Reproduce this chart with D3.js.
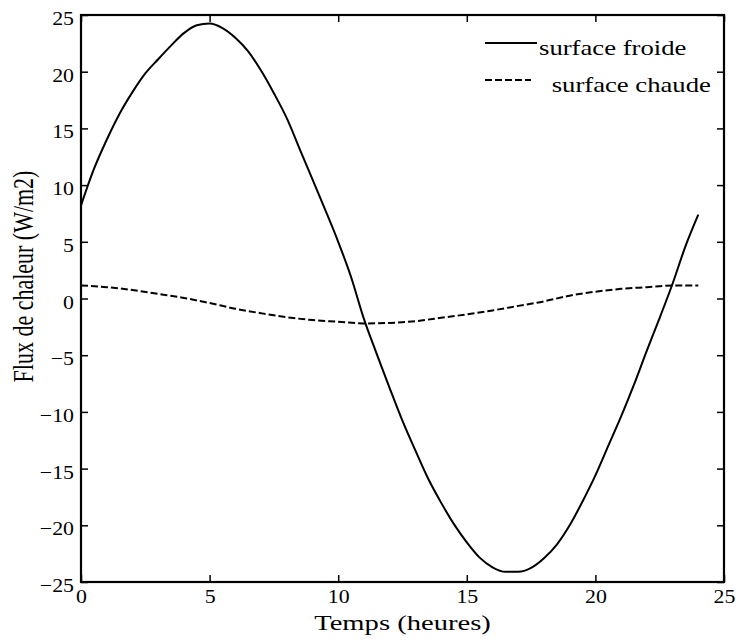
<!DOCTYPE html>
<html><head><meta charset="utf-8">
<script src="https://cdn.jsdelivr.net/npm/d3@7"></script>
<style>body{margin:0;background:#fff}svg{display:block}</style>
</head><body>
<svg id="c" width="736" height="644"></svg>
<script>
// ---- data ----
const hoursFroide = [0,0.5,1,1.5,2,2.5,3,3.5,4,4.5,5,5.5,6,6.5,7,7.5,8,8.5,9,9.5,10,10.5,11,11.5,12,12.5,13,13.5,14,14.5,15,15.5,16,16.5,17,17.5,18,18.5,19,19.5,20,20.5,21,21.5,22,22.5,23,23.5,24];
const surfaceFroide = [8.2,11.4,14.0,16.3,18.2,19.85,21.1,22.3,23.4,24.1,24.25,23.85,23.0,21.8,20.1,18.1,15.9,13.2,10.5,7.8,5.0,1.9,-1.8,-4.9,-7.9,-10.8,-13.4,-15.9,-18.0,-19.9,-21.5,-22.85,-23.7,-24.1,-24.1,-23.75,-22.9,-21.7,-20.0,-17.9,-15.6,-13.0,-10.4,-7.6,-4.6,-1.7,1.3,4.6,7.4];
const hoursChaude = [0,1,2,3,4,5,6,7,8,9,10,11,12,13,14,15,16,17,18,19,20,21,22,23,24];
const surfaceChaude = [1.15,1.0,0.75,0.4,0.05,-0.4,-0.9,-1.3,-1.65,-1.9,-2.05,-2.2,-2.15,-2.0,-1.7,-1.4,-1.05,-0.65,-0.25,0.25,0.6,0.85,1.0,1.15,1.15];
const xTicks = [0,5,10,15,20,25];
const yTicks = [-25,-20,-15,-10,-5,0,5,10,15,20,25];
const seriesNames = ["surface froide", " surface chaude"];
const xLabel = "Temps (heures)";
const yLabel = "Flux de chaleur (W/m2)";

// ---- layout ----
const L = 81, R = 724, T = 15, B = 582;
const FONT = "'Liberation Serif','Times New Roman',serif";
const svg = d3.select("#c");
const x = d3.scaleLinear().domain([0,25]).range([L,R]);
const y = d3.scaleLinear().domain([-25,25]).range([B,T]);

function styleAxis(g){
  g.select(".domain").remove();
  g.selectAll(".tick line").attr("stroke","#000").attr("stroke-width",1.5);
}
// bottom
svg.append("g").attr("transform",`translate(0,${B})`)
  .call(d3.axisBottom(x).tickValues(xTicks).tickSize(-7).tickFormat(d3.format("d")))
  .call(styleAxis)
  .call(g=>g.selectAll(".tick text").attr("y",8).attr("dy","0.71em")
     .attr("font-family",FONT).attr("font-size",19).attr("fill","#000")
     .attr("transform","scale(1.15,1)"));
// top
svg.append("g").attr("transform",`translate(0,${T})`)
  .call(d3.axisTop(x).tickValues(xTicks).tickSize(-7).tickFormat(""))
  .call(styleAxis);
// left
svg.append("g").attr("transform",`translate(${L},0)`)
  .call(d3.axisLeft(y).tickValues(yTicks).tickSize(-7).tickFormat(d3.format("d")))
  .call(styleAxis)
  .call(g=>g.selectAll(".tick text").attr("x",-7/1.15).attr("dy","0.5em")
     .attr("font-family",FONT).attr("font-size",19).attr("fill","#000")
     .attr("transform","scale(1.15,1)"));
// right
svg.append("g").attr("transform",`translate(${R},0)`)
  .call(d3.axisRight(y).tickValues(yTicks).tickSize(-7).tickFormat(""))
  .call(styleAxis);

// box
svg.append("rect").attr("x",L).attr("y",T).attr("width",R-L).attr("height",B-T)
  .attr("fill","none").attr("stroke","#000").attr("stroke-width",2.2);

// lines
const line = d3.line().x(d=>x(d[0])).y(d=>y(d[1])).curve(d3.curveMonotoneX);
svg.append("path").datum(hoursFroide.map((h,i)=>[h,surfaceFroide[i]]))
  .attr("d",line).attr("fill","none").attr("stroke","#000").attr("stroke-width",2);
svg.append("path").datum(hoursChaude.map((h,i)=>[h,surfaceChaude[i]]))
  .attr("d",line).attr("fill","none").attr("stroke","#000").attr("stroke-width",2)
  .attr("stroke-dasharray","7,3");

// legend
const leg = [{y:43, dash:null, tx:539, ty:55},{y:80, dash:"7,3", tx:545, ty:92}];
leg.forEach((l,i)=>{
  svg.append("line").attr("x1",485).attr("x2",i===0?537:531).attr("y1",l.y).attr("y2",l.y)
    .attr("stroke","#000").attr("stroke-width",2).attr("stroke-dasharray",l.dash);
  svg.append("text").attr("transform",`translate(${l.tx},${l.ty}) scale(1.27,1)`)
    .attr("font-family",FONT).attr("font-size",21).attr("fill","#000")
    .attr("xml:space","preserve").style("white-space","pre").text(seriesNames[i]);
});

// axis labels
svg.append("text").attr("transform",`translate(${(L+R)/2},630) scale(1.3,1)`)
  .attr("text-anchor","middle").attr("font-family",FONT).attr("font-size",22).attr("fill","#000")
  .text(xLabel);
svg.append("text").attr("transform",`translate(33,${(T+B)/2-22}) scale(1.3,1) rotate(-90)`)
  .attr("text-anchor","middle").attr("font-family",FONT).attr("font-size",22).attr("fill","#000")
  .text(yLabel);
</script>
</body></html>
